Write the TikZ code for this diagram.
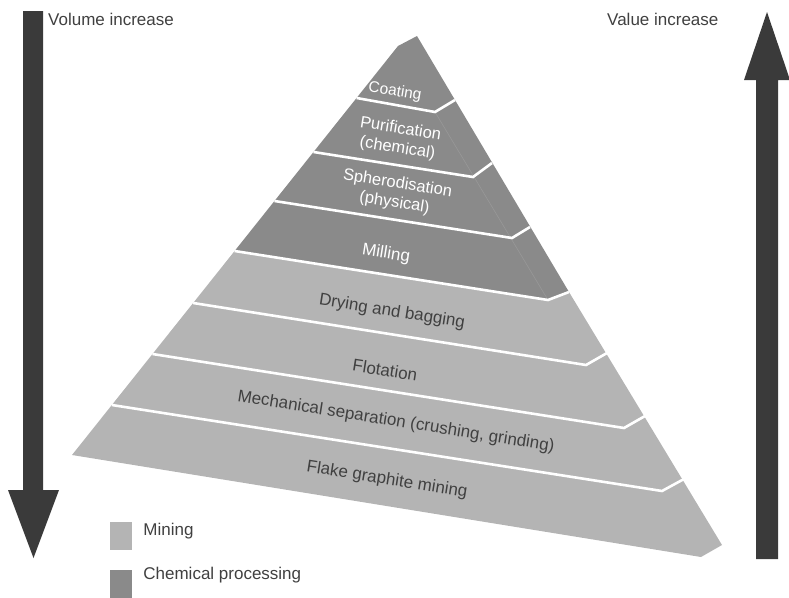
\documentclass[tikz,border=0pt]{standalone}
\usepackage{fontspec}
\setmainfont{Liberation Sans}
\usetikzlibrary{positioning}
\definecolor{chemgray}{HTML}{8A8A8A}
\definecolor{minegray}{HTML}{B4B4B4}
\definecolor{arrowgray}{HTML}{3A3A3A}
\definecolor{labelgray}{HTML}{404040}

\begin{document}
\begin{tikzpicture}[
    x=1pt, y=-1pt,
    lay/.style={font=\fontsize{17}{18}\selectfont, rotate=-9, inner sep=0pt, align=center},
    darklay/.style={lay, text=white},
    lightlay/.style={lay, text=labelgray},
    twolay/.style={darklay, font=\fontsize{16.5}{19.5}\selectfont},
    sep/.style={white, line width=2.6pt},
    legbox/.style={fill=#1, minimum width=22pt, minimum height=28pt, inner sep=0pt},
    legtext/.style={font=\fontsize{17}{18}\selectfont, text=labelgray, inner sep=0pt},
    headtext/.style={font=\fontsize{17}{18}\selectfont, text=labelgray, inner sep=0pt, anchor=west}
  ]
    \useasboundingbox (0,0) rectangle (789,597);

    % left edge, ridge and right edge of the pyramid
    \coordinate (l0) at (398,46);   \coordinate (k0) at (417,36);  \coordinate (r0) at (417,36);
    \coordinate (l1) at (356.6,98); \coordinate (k1) at (435,112); \coordinate (r1) at (455,100);
    \coordinate (l2) at (313.5,152);\coordinate (k2) at (473,177); \coordinate (r2) at (492,163);
    \coordinate (l3) at (274.5,201);\coordinate (k3) at (512,238); \coordinate (r3) at (530,227);
    \coordinate (l4) at (234.6,251);\coordinate (k4) at (548,300); \coordinate (r4) at (569,292);
    \coordinate (l5) at (193.2,303);\coordinate (k5) at (586,365); \coordinate (r5) at (607,353);
    \coordinate (l6) at (152.5,354);\coordinate (k6) at (624,428); \coordinate (r6) at (645,416);
    \coordinate (l7) at (111.9,405);\coordinate (k7) at (662,491); \coordinate (r7) at (684,479);
    \coordinate (l8) at (72,455);   \coordinate (k8) at (701,557); \coordinate (r8) at (722,545);

    % chemical processing part
    \fill[chemgray] (l0) -- (r0) -- (r4) -- (k4) -- (l4) -- cycle;
    \draw[chemgray!88!white, line width=0.6pt] (k1) -- (k4);
    % mining part
    \fill[minegray] (l4) -- (k4) -- (r4) -- (r8) -- (k8) -- (l8) -- cycle;

    \foreach \i in {1,...,7}
      \draw[sep] (l\i) -- (k\i) -- (r\i);

    \node[darklay, font=\fontsize{15.5}{17}\selectfont] (coat) at (395,92) {Coating};
    \node[twolay] (puri) at (399,139) {Purification\\(chemical)};
    \node[twolay] (sphe) at (396,193.5) {Spherodisation\\(physical)};
    \node[darklay] (mill) at (386,254) {Milling};
    \node[lightlay] (dry) at (392,312) {Drying and bagging};
    \node[lightlay] (flot) at (385,370) {Flotation};
    \node[lightlay] (mech) at (396,422) {Mechanical separation (crushing, grinding)};
    \node[lightlay] (flake) at (387,480) {Flake graphite mining};

    % volume and value arrows
    \fill[arrowgray] (23,11) -- (43,11) -- (43,490) -- (59,490) -- (33.5,558)
      -- (8,490) -- (23,490) -- cycle;
    \fill[arrowgray] (756,559) -- (778,559) -- (778,80) -- (790,80) -- (767,12)
      -- (744,80) -- (756,80) -- cycle;
    \node[headtext] (vol) at (48,19) {Volume increase};
    \node[headtext] (val) at (607,19) {Value increase};

    % legend
    \node[legbox=minegray] (legmine) at (121,536) {};
    \node[legtext, right=11pt of legmine, yshift=5pt] (legminetxt) {Mining};
    \node[legbox=chemgray] (legchem) at (121,584) {};
    \node[legtext, right=11pt of legchem, yshift=9pt] (legchemtxt) {Chemical processing};
  \end{tikzpicture}
\end{document}
